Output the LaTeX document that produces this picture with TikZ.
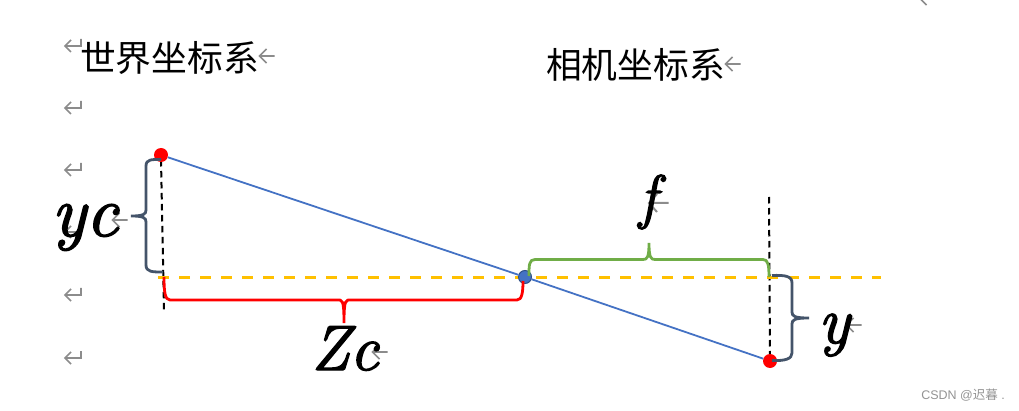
\documentclass[tikz,border=0pt]{standalone}
\usepackage{fontspec}
\newfontfamily\cjkfont{Noto Sans CJK SC}
\setmainfont{Liberation Sans}
\newfontfamily\labfont[ItalicFeatures={FakeBold=2.2}]{Latin Modern Roman}
\definecolor{markgray}{HTML}{8C8C8C}
\definecolor{slatebrace}{HTML}{44546A}
\definecolor{bluepen}{HTML}{4472C4}
\definecolor{orangepen}{HTML}{FFC000}
\definecolor{greenpen}{HTML}{70AD47}
\tikzset{
  title/.style={inner sep=0pt,font=\cjkfont\fontsize{35.8}{36}\selectfont,text=black},
  biglabel/.style={inner sep=0pt,text=black},
  reddot/.style={circle,fill=red,minimum size=14pt,inner sep=0pt},
  bluedot/.style={circle,fill=bluepen,draw=bluepen!70!black,line width=1pt,minimum size=13pt,inner sep=0pt},
  bracepen/.style={line width=2.8pt,line join=round},
  thinblue/.style={line width=1.8pt,draw=bluepen},
  blackdash/.style={line width=2pt,draw=black,dash pattern=on 6.5pt off 4.5pt},
  axisdash/.style={line width=3.2pt,draw=orangepen,dash pattern=on 11pt off 10pt},
  markline/.style={line width=1.6pt,draw=markgray},
  retmark/.pic={\draw[markline] (8,-7) -- (8,0) -- (-8,0) (-2,-6) -- (-8,0) -- (-2,6);},
  arrmark/.pic={\draw[markline] (7.5,0) -- (-7.5,0) (-0.5,-7) -- (-7.5,0) -- (-0.5,7);},
  bigarrmark/.pic={\draw[markline,line width=2pt] (10.5,0) -- (-9,0) (-1,-9) -- (-9,0) -- (-1,9);},
}
\begin{document}
\begin{tikzpicture}[x=1pt,y=-1pt]
\useasboundingbox (0,0) rectangle (1019,411);
% paragraph marks
\foreach \yy in {46,108,170,232,295,358}
  \pic at (73,\yy) {retmark};
\pic at (927,-2) {arrmark};
\pic at (267,56) {arrmark};
\pic at (733,64) {arrmark};
\pic at (120,220) {arrmark};
\pic at (658,203) {bigarrmark};
\pic at (854,325) {arrmark};
\pic at (380,352) {arrmark};
% titles
\node[title] (world) at (169.5,58) {世界坐标系};
\node[title] (camera) at (635.5,65) {相机坐标系};
% geometry anchors
\coordinate (dlt) at (161,160);
\coordinate (dlb) at (164,310);
\coordinate (drt) at (769,197);
\coordinate (drb) at (770,356);
\coordinate (axl) at (158,277.3);
\coordinate (axr) at (881,277.3);
\draw[blackdash] (dlt) -- (dlb);
\draw[blackdash] (drt) -- (drb);
\draw[axisdash] (axl) -- (axr);
% dots
\node[reddot] (P) at (161,155) {};
\node[reddot] (Q) at (770,361) {};
\node[bluedot] (O) at (525,277) {};
\draw[thinblue] (P) -- (O);
\draw[thinblue] (O) -- (Q);
% braces
\draw[bracepen,slatebrace] (161,159.5) .. controls (152,159.5) and (146,159) .. (146,166) -- (146,210)
  .. controls (146,214) and (144,216) .. (131,216) (131,216) .. controls (144,216) and (146,218) .. (146,222) -- (146,265)
  .. controls (146,272) and (152,272) .. (163,272);
\draw[bracepen,slatebrace] (772,275.5) .. controls (785,275) and (792,276) .. (792,283) -- (792,312)
  .. controls (792,316) and (794,318) .. (809,318) (809,318) .. controls (794,318) and (792,320) .. (792,324) -- (792,353)
  .. controls (792,359) and (785,361) .. (772,360.5);
\draw[bracepen,greenpen] (529,276) .. controls (529,265) and (529,259.5) .. (535,259.5) -- (643,259.5)
  .. controls (647,259.5) and (649,258) .. (649,243) (649,243) .. controls (649,258) and (651,259.5) .. (655,259.5) -- (763,259.5)
  .. controls (768,259.5) and (769,265) .. (769,277);
\draw[bracepen,red] (164,277) .. controls (164,292) and (165,300) .. (170,300) -- (337,300)
  .. controls (342,300) and (344,298) .. (344,323) (344,323) .. controls (344,298) and (346,300) .. (351,300) -- (517,300)
  .. controls (522,300) and (523,292) .. (523,281);
% labels
\node[biglabel,anchor=base,font=\labfont\itshape\fontsize{72}{72}\selectfont] (yc) at (85,236) {yc};
\node[biglabel,anchor=base,font=\labfont\itshape\fontsize{60}{60}\selectfont] (fl) at (648,217) {f};
\node[biglabel,anchor=base,font=\labfont\itshape\fontsize{66}{66}\selectfont] (yl) at (834,343) {y};
\node[biglabel,anchor=base,font=\labfont\itshape\fontsize{64}{64}\selectfont] (zc) at (345,370) {Zc};
\node[inner sep=0pt,anchor=east,text=gray!85,font=\fontsize{12.5}{13}\selectfont] (wm) at (1005,395) {CSDN @{\cjkfont 迟暮} .};
\end{tikzpicture}
\end{document}
